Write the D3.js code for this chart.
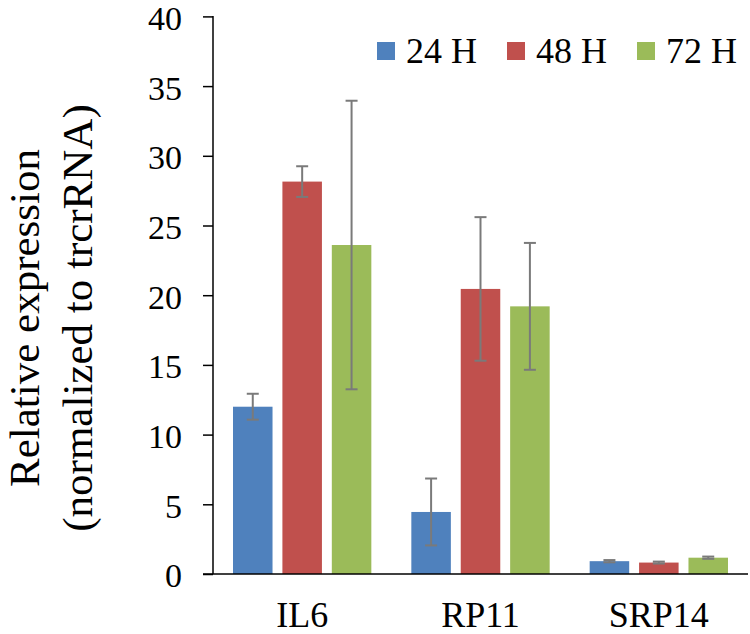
<!DOCTYPE html>
<html>
<head>
<meta charset="utf-8">
<script src="https://cdn.jsdelivr.net/npm/d3@7"></script>
<style>
  html, body { margin: 0; padding: 0; background: #ffffff; }
  svg { display: block; }
  svg text { font-family: "Liberation Serif", "Times New Roman", serif !important; fill: #000; }
</style>
</head>
<body>
<div id="chart"></div>
<script>
const categories = ["IL6", "RP11", "SRP14"];
const series = ["24 H", "48 H", "72 H"];
const values24 = [12.0, 4.45, 0.92];
const values48 = [28.15, 20.45, 0.82];
const values72 = [23.6, 19.2, 1.17];
const err24 = [0.93, 2.4, 0.08];
const err48 = [1.1, 5.15, 0.07];
const err72 = [10.35, 4.55, 0.08];
const yTicks = [0, 5, 10, 15, 20, 25, 30, 35, 40];
const colors = ["#4F81BD", "#C0504D", "#9BBB59"];

const W = 750, H = 634;
const plotLeft = 213, plotRight = 748, plotTop = 16.4, plotBottom = 574;
const FONT = "Liberation Serif, Times New Roman, serif";

const valuesBySeries = [values24, values48, values72];
const errBySeries = [err24, err48, err72];
const data = [];
categories.forEach((c, ci) => {
  series.forEach((s, si) => {
    data.push({cat: c, ser: s, si: si, v: valuesBySeries[si][ci], e: errBySeries[si][ci]});
  });
});

const svg = d3.select("#chart").append("svg").attr("width", W).attr("height", H)
  .attr("font-family", FONT);

const y = d3.scaleLinear().domain([0, 40]).range([plotBottom, plotTop]);
const x0 = d3.scaleBand().domain(categories).range([plotLeft, plotRight]).paddingInner(0).paddingOuter(0);
const x1 = d3.scaleBand().domain(series).range([20, x0.bandwidth() - 20]).paddingInner(0.2).paddingOuter(0);

// bars
svg.append("g").selectAll("rect").data(data).join("rect")
  .attr("x", d => x0(d.cat) + x1(d.ser))
  .attr("y", d => y(d.v))
  .attr("width", x1.bandwidth())
  .attr("height", d => y(0) - y(d.v))
  .attr("fill", d => colors[d.si]);

// error bars
const capW = 12;
const eg = svg.append("g").attr("stroke", "#7a7a7a").attr("stroke-width", 2);
data.forEach(d => {
  const cx = x0(d.cat) + x1(d.ser) + x1.bandwidth() / 2;
  const y1 = y(d.v + d.e), y2 = y(d.v - d.e);
  eg.append("line").attr("x1", cx).attr("x2", cx).attr("y1", y1).attr("y2", y2);
  eg.append("line").attr("x1", cx - capW / 2).attr("x2", cx + capW / 2).attr("y1", y1).attr("y2", y1);
  eg.append("line").attr("x1", cx - capW / 2).attr("x2", cx + capW / 2).attr("y1", y2).attr("y2", y2);
});

// y axis
const yAxis = d3.axisLeft(y).tickValues(yTicks).tickSize(10).tickPadding(21).tickFormat(d3.format("d"));
const yg = svg.append("g").attr("transform", `translate(${plotLeft},0)`).call(yAxis)
  .attr("font-family", FONT).attr("font-size", 34);
yg.select(".domain").remove();
yg.selectAll(".tick line").attr("stroke", "#000").attr("stroke-width", 1.5);
yg.selectAll(".tick text").attr("font-family", FONT).style("font-size", "34px").attr("dy", "0.38em");
svg.append("line").attr("x1", plotLeft).attr("x2", plotLeft).attr("y1", plotTop - 0.5).attr("y2", plotBottom)
  .attr("stroke", "#000").attr("stroke-width", 1.5);

// x axis
svg.append("line").attr("x1", plotLeft - 10).attr("x2", plotRight).attr("y1", plotBottom).attr("y2", plotBottom)
  .attr("stroke", "#000").attr("stroke-width", 1.5);
svg.append("g").selectAll("text").data(categories).join("text")
  .attr("x", d => x0(d) + x0.bandwidth() / 2)
  .attr("y", 627)
  .attr("text-anchor", "middle")
  .attr("font-family", FONT)
  .style("font-size", "36px")
  .text(d => d);

// y title
const tg = svg.append("g").attr("transform", "translate(0,318) rotate(-90)");
tg.append("text").attr("x", 0).attr("y", 39).attr("text-anchor", "middle").attr("font-family", FONT).style("font-size", "43px").text("Relative expression");
tg.append("text").attr("x", 0).attr("y", 92).attr("text-anchor", "middle").attr("font-family", FONT).style("font-size", "43px").text("(normalized to trcrRNA)");

// legend
const lg = svg.append("g");
series.forEach((s, i) => {
  const lx = 377 + i * 130;
  lg.append("rect").attr("x", lx).attr("y", 42).attr("width", 18).attr("height", 18).attr("fill", colors[i]);
  lg.append("text").attr("x", lx + 29).attr("y", 63).attr("font-family", FONT).style("font-size", "36px").text(s);
});
</script>
</body>
</html>
